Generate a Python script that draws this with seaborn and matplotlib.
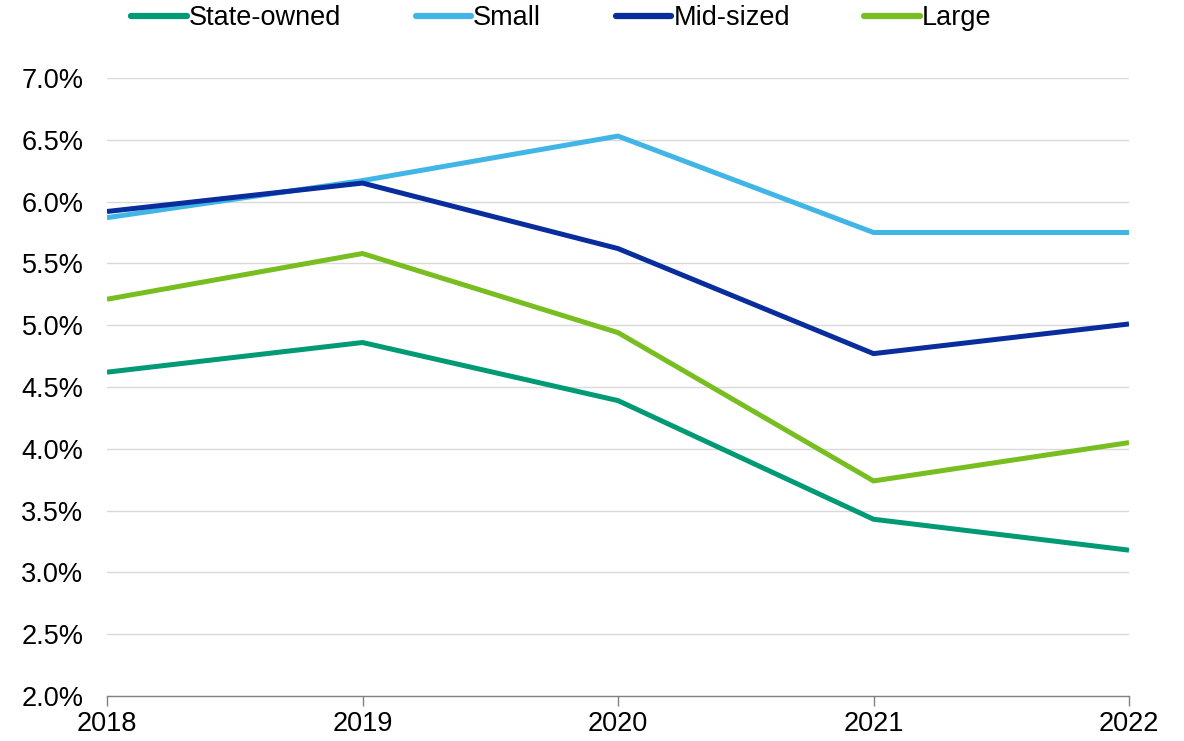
import numpy as np
import pandas as pd
import matplotlib
matplotlib.use("Agg")
import matplotlib.pyplot as plt
import seaborn as sns
from matplotlib.ticker import FuncFormatter

years = [2018, 2019, 2020, 2021, 2022]
state_owned = [4.62, 4.86, 4.39, 3.43, 3.18]
small = [5.87, 6.17, 6.53, 5.75, 5.75]
mid_sized = [5.92, 6.15, 5.62, 4.77, 5.01]
large = [5.21, 5.58, 4.94, 3.74, 4.05]

series_names = ["State-owned", "Small", "Mid-sized", "Large"]
palette = ["#009A74", "#41B6E6", "#0A2D9E", "#78BE20"]

df = pd.DataFrame({
    "year": years * 4,
    "value": state_owned + small + mid_sized + large,
    "group": sum([[n] * len(years) for n in series_names], []),
})

sns.set_theme(style="white")
plt.rcParams["font.family"] = ["Liberation Sans", "DejaVu Sans"]
plt.rcParams["text.color"] = "black"

W, H = 1184, 741
fig = plt.figure(figsize=(W / 100, H / 100), dpi=100)
ax = fig.add_axes([107 / W, 1 - 696 / H, (1129 - 107) / W, (696 - 78) / H])

sns.lineplot(data=df, x="year", y="value", hue="group", hue_order=series_names,
             palette=palette, linewidth=3.6, ax=ax, legend=True, zorder=3)
for line in ax.get_lines():
    line.set_solid_joinstyle("miter")
    line.set_solid_capstyle("butt")

ax.set_xlim(2018, 2022)
ax.set_ylim(2.0, 7.0)
ax.set_xticks(years)
ax.set_xticklabels([str(y) for y in years])
ax.set_yticks(np.arange(2.0, 7.01, 0.5))
ax.yaxis.set_major_formatter(FuncFormatter(lambda v, _: f"{v:.1f}%"))
ax.set_xlabel("")
ax.set_ylabel("")

ax.grid(axis="y", color="#D9D9D9", linewidth=1)
ax.grid(axis="x", visible=False)
for side in ["left", "right", "top"]:
    ax.spines[side].set_visible(False)
ax.spines["bottom"].set_color("#808080")
ax.spines["bottom"].set_linewidth(1)

ax.tick_params(axis="x", which="major", direction="out", length=7, width=1,
               color="#808080", labelsize=19.5, pad=4, bottom=True)
ax.tick_params(axis="y", length=0, labelsize=19.5, pad=17)
for lbl in ax.get_xticklabels() + ax.get_yticklabels():
    lbl.set_color("black")

# Move the series key above the plot area as a single row
handles, labels = ax.get_legend_handles_labels()
ax.get_legend().remove()
for h in handles:
    h.set_linewidth(4.5)
    h.set_solid_capstyle("round")
leg = fig.legend(handles, labels, loc="center left", bbox_to_anchor=(131 / W, 1 - 18 / H),
                 ncol=4, frameon=False, fontsize=19.5, handlelength=2.05,
                 handletextpad=0.08, columnspacing=2.75, borderaxespad=0, borderpad=0)
for t in leg.get_texts():
    t.set_color("black")

fig.savefig("out.png", dpi=100)
